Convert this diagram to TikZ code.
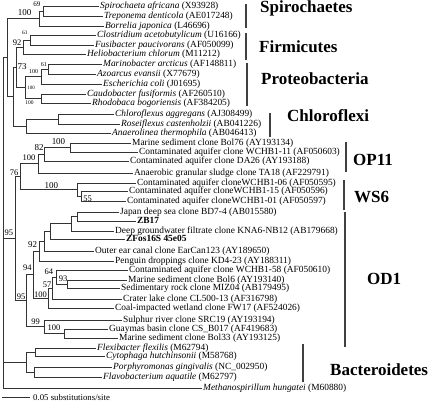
\documentclass[tikz,border=0pt]{standalone}
\usepackage{fontspec}
\setmainfont{Liberation Serif}
\begin{document}
\begin{tikzpicture}[x=1pt,y=-1pt,
  br/.style={line width=0.5pt, draw=black!80},
  leaf/.style={anchor=west, inner xsep=1.5pt, inner ysep=0pt, text height=6.6pt, text depth=2pt, font=\fontsize{9.4}{10}\selectfont},
  bs/.style={inner sep=0pt, font=\fontsize{#1}{#1}\selectfont},
  clade/.style={anchor=base west, inner sep=0pt, font=\fontsize{17}{20}\selectfont\bfseries},
  bar/.style={line width=1.1pt, draw=black!75}]
\useasboundingbox (0,0) rectangle (429,403);
% leaves
\node[leaf] (l1) at (98.5,6) {\textit{Spirochaeta africana} (X93928)};
\node[leaf] (l2) at (102.5,16) {\textit{Treponema denticola} (AE017248)};
\node[leaf] (l3) at (103.5,26) {\textit{Borrelia japonica} (L46696)};
\node[leaf] (l4) at (95.5,35) {\textit{Clostridium acetobutylicum} (U16166)};
\node[leaf] (l5) at (93.5,45) {\textit{Fusibacter paucivorans} (AF050099)};
\node[leaf] (l6) at (85.5,54) {\textit{Heliobacterium chlorum} (M11212)};
\node[leaf] (l7) at (101.5,64) {\textit{Marinobacter arcticus} (AF148811)};
\node[leaf] (l8) at (95.5,74) {\textit{Azoarcus evansii} (X77679)};
\node[leaf] (l9) at (101.5,84) {\textit{Escherichia coli} (J01695)};
\node[leaf] (l10) at (85.5,94) {\textit{Caudobacter fusiformis} (AF260510)};
\node[leaf] (l11) at (90.5,103) {\textit{Rhodobaca bogoriensis} (AF384205)};
\node[leaf] (l12) at (113.5,114) {\textit{Chloroflexus aggregans} (AJ308499)};
\node[leaf] (l13) at (119.5,124) {\textit{Roseiflexus castenholzii} (AB041226)};
\node[leaf] (l14) at (110.5,133) {\textit{Anaerolinea thermophila} (AB046413)};
\node[leaf] (l15) at (130.5,143) {Marine sediment clone Bol76 (AY193134)};
\node[leaf] (l16) at (137.5,152) {Contaminated aquifer clone WCHB1-11 (AF050603)};
\node[leaf] (l17) at (128.5,161) {Contaminated aquifer clone DA26 (AY193188)};
\node[leaf] (l18) at (132.5,173) {Anaerobic granular sludge clone TA18 (AF229791)};
\node[leaf] (l19) at (135.5,183) {Contaminated aquifer cloneWCHB1-06 (AF050595)};
\node[leaf] (l20) at (127.5,191) {Contaminated aquifer cloneWCHB1-15 (AF050596)};
\node[leaf] (l21) at (125.5,201) {Contaminated aquifer cloneWCHB1-01 (AF050597)};
\node[leaf] (l22) at (118.5,212) {Japan deep sea clone BD7-4 (AB015580)};
\node[leaf] (l23) at (135.5,221) {\textbf{ZB17}};
\node[leaf] (l24) at (113.5,231) {Deep groundwater filtrate clone KNA6-NB12 (AB179668)};
\node[leaf] (l25) at (124.5,239) {\textbf{ZFos16S 45e05}};
\node[leaf] (l26) at (93.5,251) {Outer ear canal clone EarCan123 (AY189650)};
\node[leaf] (l27) at (113.5,261) {Penguin droppings clone KD4-23 (AY188311)};
\node[leaf] (l28) at (127.5,270) {Contaminated aquifer clone WCHB1-58 (AF050610)};
\node[leaf] (l29) at (126.5,280) {Marine sediment clone Bol6 (AY193140)};
\node[leaf] (l30) at (119.5,288) {Sedimentary rock clone MIZ04 (AB179495)};
\node[leaf] (l31) at (121.5,299) {Crater lake clone CL500-13 (AF316798)};
\node[leaf] (l32) at (113.5,308) {Coal-impacted wetland clone FW17 (AF524026)};
\node[leaf] (l33) at (121.5,320) {Sulphur river clone SRC19 (AY193194)};
\node[leaf] (l34) at (107.5,329) {Guaymas basin clone CS\_B017 (AF419683)};
\node[leaf] (l35) at (117.5,338) {Marine sediment clone Bol33 (AY193125)};
\node[leaf] (l36) at (95.5,348) {\textit{Flexibacter flexilis} (M62794)};
\node[leaf] (l37) at (104.5,356) {\textit{Cytophaga hutchinsonii} (M58768)};
\node[leaf] (l38) at (111.5,367) {\textit{Porphyromonas gingivalis} (NC\_002950)};
\node[leaf] (l39) at (101.5,377) {\textit{Flavobacterium aquatile} (M62797)};
\node[leaf] (l40) at (201.5,388) {\textit{Methanospirillum hungatei} (M60880)};
% internal nodes
\coordinate (A) at (43,11);
\coordinate (B) at (39,18.5);
\coordinate (F1) at (30,40);
\coordinate (F2) at (23,47);
\coordinate (P1) at (48,69);
\coordinate (P2) at (41,76.5);
\coordinate (P3) at (41,98.5);
\coordinate (P4) at (25,87.5);
\coordinate (N73) at (16,67.25);
\coordinate (C1) at (58,119);
\coordinate (C2) at (26,126);
\coordinate (N13) at (13,96.6);
\coordinate (N7) at (7,57.6);
\coordinate (O1) at (70,147.5);
\coordinate (O2) at (44,154.25);
\coordinate (O3) at (38,163.6);
\coordinate (W1) at (81,196);
\coordinate (W2) at (77,189.5);
\coordinate (O4) at (20,176.6);
\coordinate (D1) at (77,216.5);
\coordinate (D2) at (71,223.75);
\coordinate (D3) at (50,231.4);
\coordinate (D4) at (44,241.2);
\coordinate (D5) at (39,251.1);
\coordinate (M1) at (67,284);
\coordinate (M2) at (56,277);
\coordinate (M3) at (52,288);
\coordinate (M4) at (48,298);
\coordinate (M5) at (33,274.5);
\coordinate (S1) at (64,333.5);
\coordinate (S2) at (44,326.75);
\coordinate (M6) at (26,300.6);
\coordinate (M7) at (15,238.6);
\coordinate (Bc1) at (35,352);
\coordinate (Bc2) at (34,372);
\coordinate (Bc3) at (26,362);
\coordinate (R) at (3,200);
% branches
\draw[br] (A) |- (l1.west); \draw[br] (A) |- (l2.west);
\draw[br] (B) |- (A); \draw[br] (B) |- (l3.west);
\draw[br] (F1) |- (l4.west); \draw[br] (F1) |- (l5.west);
\draw[br] (F2) |- (F1); \draw[br] (F2) |- (l6.west);
\draw[br] (P1) |- (l7.west); \draw[br] (P1) |- (l8.west);
\draw[br] (P2) |- (P1); \draw[br] (P2) |- (l9.west);
\draw[br] (P3) |- (l10.west); \draw[br] (P3) |- (l11.west);
\draw[br] (P4) |- (P2); \draw[br] (P4) |- (P3);
\draw[br] (N73) |- (F2); \draw[br] (N73) |- (P4);
\draw[br] (C1) |- (l12.west); \draw[br] (C1) |- (l13.west);
\draw[br] (C2) |- (C1); \draw[br] (C2) |- (l14.west);
\draw[br] (N13) |- (N73); \draw[br] (N13) |- (C2);
\draw[br] (N7) |- (B); \draw[br] (N7) |- (N13);
\draw[br] (O1) |- (l15.west); \draw[br] (O1) |- (l16.west);
\draw[br] (O2) |- (O1); \draw[br] (O2) |- (l17.west);
\draw[br] (O3) |- (O2); \draw[br] (O3) |- (l18.west);
\draw[br] (W1) |- (l20.west); \draw[br] (W1) |- (l21.west);
\draw[br] (W2) |- (l19.west); \draw[br] (W2) |- (W1);
\draw[br] (O4) |- (O3); \draw[br] (O4) |- (W2);
\draw[br] (D1) |- (l22.west); \draw[br] (D1) |- (l23.west);
\draw[br] (D2) |- (D1); \draw[br] (D2) |- (l24.west);
\draw[br] (D3) |- (D2); \draw[br] (D3) |- (l25.west);
\draw[br] (D4) |- (D3); \draw[br] (D4) |- (l26.west);
\draw[br] (D5) |- (D4); \draw[br] (D5) |- (l27.west);
\draw[br] (M1) |- (l29.west); \draw[br] (M1) |- (l30.west);
\draw[br] (M2) |- (l28.west); \draw[br] (M2) |- (M1);
\draw[br] (M3) |- (M2); \draw[br] (M3) |- (l31.west);
\draw[br] (M4) |- (M3); \draw[br] (M4) |- (l32.west);
\draw[br] (M5) |- (D5); \draw[br] (M5) |- (M4);
\draw[br] (S1) |- (l34.west); \draw[br] (S1) |- (l35.west);
\draw[br] (S2) |- (l33.west); \draw[br] (S2) |- (S1);
\draw[br] (M6) |- (M5); \draw[br] (M6) |- (S2);
\draw[br] (M7) |- (O4); \draw[br] (M7) |- (M6);
\draw[br] (Bc1) |- (l36.west); \draw[br] (Bc1) |- (l37.west);
\draw[br] (Bc2) |- (l38.west); \draw[br] (Bc2) |- (l39.west);
\draw[br] (Bc3) |- (Bc1); \draw[br] (Bc3) |- (Bc2);
\draw[br] (R) |- (N7); \draw[br] (R) |- (M7);
\draw[br] (R) |- (Bc3); \draw[br] (R) |- (l40.west);
% bootstrap values
\node[bs=7] (b1) at (37,4) {69};
\node[bs=9] (b2) at (24.5,13) {100};
\node[bs=5.5] (b3) at (25,33) {61};
\node[bs=8.5] (b4) at (17,43) {92};
\node[bs=9] (b5) at (22,67) {73};
\node[bs=6] (b6) at (44,65) {61};
\node[bs=6] (b7) at (33.5,72) {100};
\node[bs=5] (b8) at (31,87.5) {100};
\node[bs=5.5] (b9) at (29.5,103) {100};
\node[bs=9] (b10) at (58.5,142) {100};
\node[bs=9] (b11) at (39,148) {82};
\node[bs=8.5] (b12) at (29,158) {100};
\node[bs=8.5] (b13) at (14,172.5) {76};
\node[bs=9] (b14) at (51.5,186) {100};
\node[bs=8.5] (b15) at (87.5,198.5) {55};
\node[bs=8.5] (b16) at (9,233) {95};
\node[bs=9] (b17) at (32.5,245) {92};
\node[bs=8.5] (b18) at (27.5,267.5) {94};
\node[bs=8.5] (b19) at (49,272) {64};
\node[bs=8.5] (b20) at (63,279) {93};
\node[bs=8.5] (b21) at (47,285) {57};
\node[bs=8.5] (b22) at (40.5,295) {100};
\node[bs=8.5] (b23) at (21,297) {95};
\node[bs=8.5] (b24) at (35.5,322) {99};
\node[bs=8.5] (b25) at (54,328) {100};
% clade bars and names
\coordinate (sp1) at (246,4); \coordinate (sp2) at (246,28);
\draw[bar] (sp1) -- (sp2);
\node[clade] (spn) at (260,12.5) {Spirochaetes};
\coordinate (fi1) at (246,33); \coordinate (fi2) at (246,60);
\draw[bar] (fi1) -- (fi2);
\node[clade] (fin) at (259,53) {Firmicutes};
\coordinate (pr1) at (247,63); \coordinate (pr2) at (247,106);
\draw[bar] (pr1) -- (pr2);
\node[clade] (prn) at (261,85) {Proteobacteria};
\coordinate (ch1) at (270,113); \coordinate (ch2) at (270,137);
\draw[bar] (ch1) -- (ch2);
\node[clade] (chn) at (287,122) {Chloroflexi};
\coordinate (op1) at (346,142); \coordinate (op2) at (346,172);
\draw[bar] (op1) -- (op2);
\node[clade] (opn) at (353,166) {OP11};
\coordinate (ws1) at (344,180); \coordinate (ws2) at (344,210);
\draw[bar] (ws1) -- (ws2);
\node[clade] (wsn) at (354,203) {WS6};
\coordinate (od1) at (345,212); \coordinate (od2) at (345,347);
\draw[bar] (od1) -- (od2);
\node[clade] (odn) at (367,285) {OD1};
\coordinate (ba1) at (303,344); \coordinate (ba2) at (303,382);
\draw[bar] (ba1) -- (ba2);
\node[clade] (ban) at (330,376) {Bacteroidetes};
% scale bar
\coordinate (sc1) at (2,397.5); \coordinate (sc2) at (30,397.5);
\draw[br] (sc1) -- (sc2);
\node[anchor=west, inner sep=0pt, font=\fontsize{8.8}{10}\selectfont] (sct) at (33,397.5) {0.05 substitutions/site};
\end{tikzpicture}
\end{document}
